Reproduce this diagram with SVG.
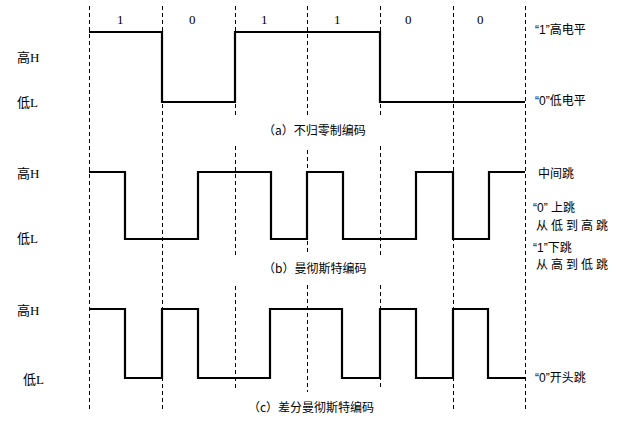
<svg xmlns="http://www.w3.org/2000/svg" width="624" height="424" viewBox="0 0 624 424">
<style>
.grid{stroke:#000;stroke-width:1;stroke-dasharray:4 3;fill:none}
.wave{stroke:#000;stroke-width:2.2;fill:none;stroke-linejoin:miter}
text{font-family:"Liberation Sans","Noto Sans CJK SC",sans-serif;font-size:12px;fill:#000}
.bit{font-family:"Liberation Serif","Noto Sans CJK SC",serif;font-size:13px}
.lvl{font-family:"Liberation Serif","Noto Sans CJK SC",serif;font-size:13px}
.cap{font-family:"Noto Sans CJK SC","Liberation Sans",sans-serif;font-size:12px}
.wide{letter-spacing:3px}
</style>
<rect width="624" height="424" fill="#fff"/>
<g id="grid">
<line class="grid" x1="89.5" y1="6" x2="89.5" y2="412"/>
<line class="grid" x1="162.5" y1="6" x2="162.5" y2="412"/>
<line class="grid" x1="235.5" y1="6" x2="235.5" y2="118"/>
<line class="grid" x1="235.5" y1="146" x2="235.5" y2="257"/>
<line class="grid" x1="235.5" y1="286" x2="235.5" y2="390"/>
<line class="grid" x1="307.5" y1="6" x2="307.5" y2="118"/>
<line class="grid" x1="307.5" y1="150" x2="307.5" y2="255"/>
<line class="grid" x1="307.5" y1="285" x2="307.5" y2="392"/>
<line class="grid" x1="380.5" y1="6" x2="380.5" y2="118"/>
<line class="grid" x1="380.5" y1="146" x2="380.5" y2="257"/>
<line class="grid" x1="380.5" y1="285" x2="380.5" y2="390"/>
<line class="grid" x1="453.5" y1="6" x2="453.5" y2="412"/>
<line class="grid" x1="525.5" y1="6" x2="525.5" y2="410"/>
</g>
<g id="bits">
<text class="bit" x="117" y="24">1</text>
<text class="bit" x="189" y="24">0</text>
<text class="bit" x="261" y="24">1</text>
<text class="bit" x="334" y="24">1</text>
<text class="bit" x="405" y="24">0</text>
<text class="bit" x="477" y="24">0</text>
</g>
<g id="nrz">
<path class="wave" d="M89,32 H162 V102 H235 V32 H380 V102 H525"/>
<text class="lvl" x="17" y="62">高H</text>
<text class="lvl" x="17" y="107">低L</text>
<text x="535" y="34">“1”高电平</text>
<text x="535" y="105">“0”低电平</text>
<text class="cap" x="263" y="135">（a）不归零制编码</text>
</g>
<g id="manchester">
<path class="wave" d="M89,172 H125 V239 H198 V172 H271 V239 H307 V172 H343 V239 H416 V172 H453 V239 H489 V172 H525"/>
<text class="lvl" x="17" y="178">高H</text>
<text class="lvl" x="17" y="243">低L</text>
<text x="538" y="178">中间跳</text>
<text x="533" y="212">“0” 上跳</text>
<text class="wide" x="536" y="230">从低到高跳</text>
<text x="533" y="252">“1”下跳</text>
<text class="wide" x="536" y="269">从高到低跳</text>
<text class="cap" x="263" y="273">（b）曼彻斯特编码</text>
</g>
<g id="diff-manchester">
<path class="wave" d="M89,309 H125 V378 H162 V309 H198 V378 H270 V309 H342 V378 H380 V309 H416 V378 H453 V309 H488 V378 H525"/>
<text class="lvl" x="17" y="315">高H</text>
<text class="lvl" x="23" y="384">低L</text>
<text x="535" y="382">“0”开头跳</text>
<text class="cap" x="248" y="412">（c）差分曼彻斯特编码</text>
</g>
</svg>
